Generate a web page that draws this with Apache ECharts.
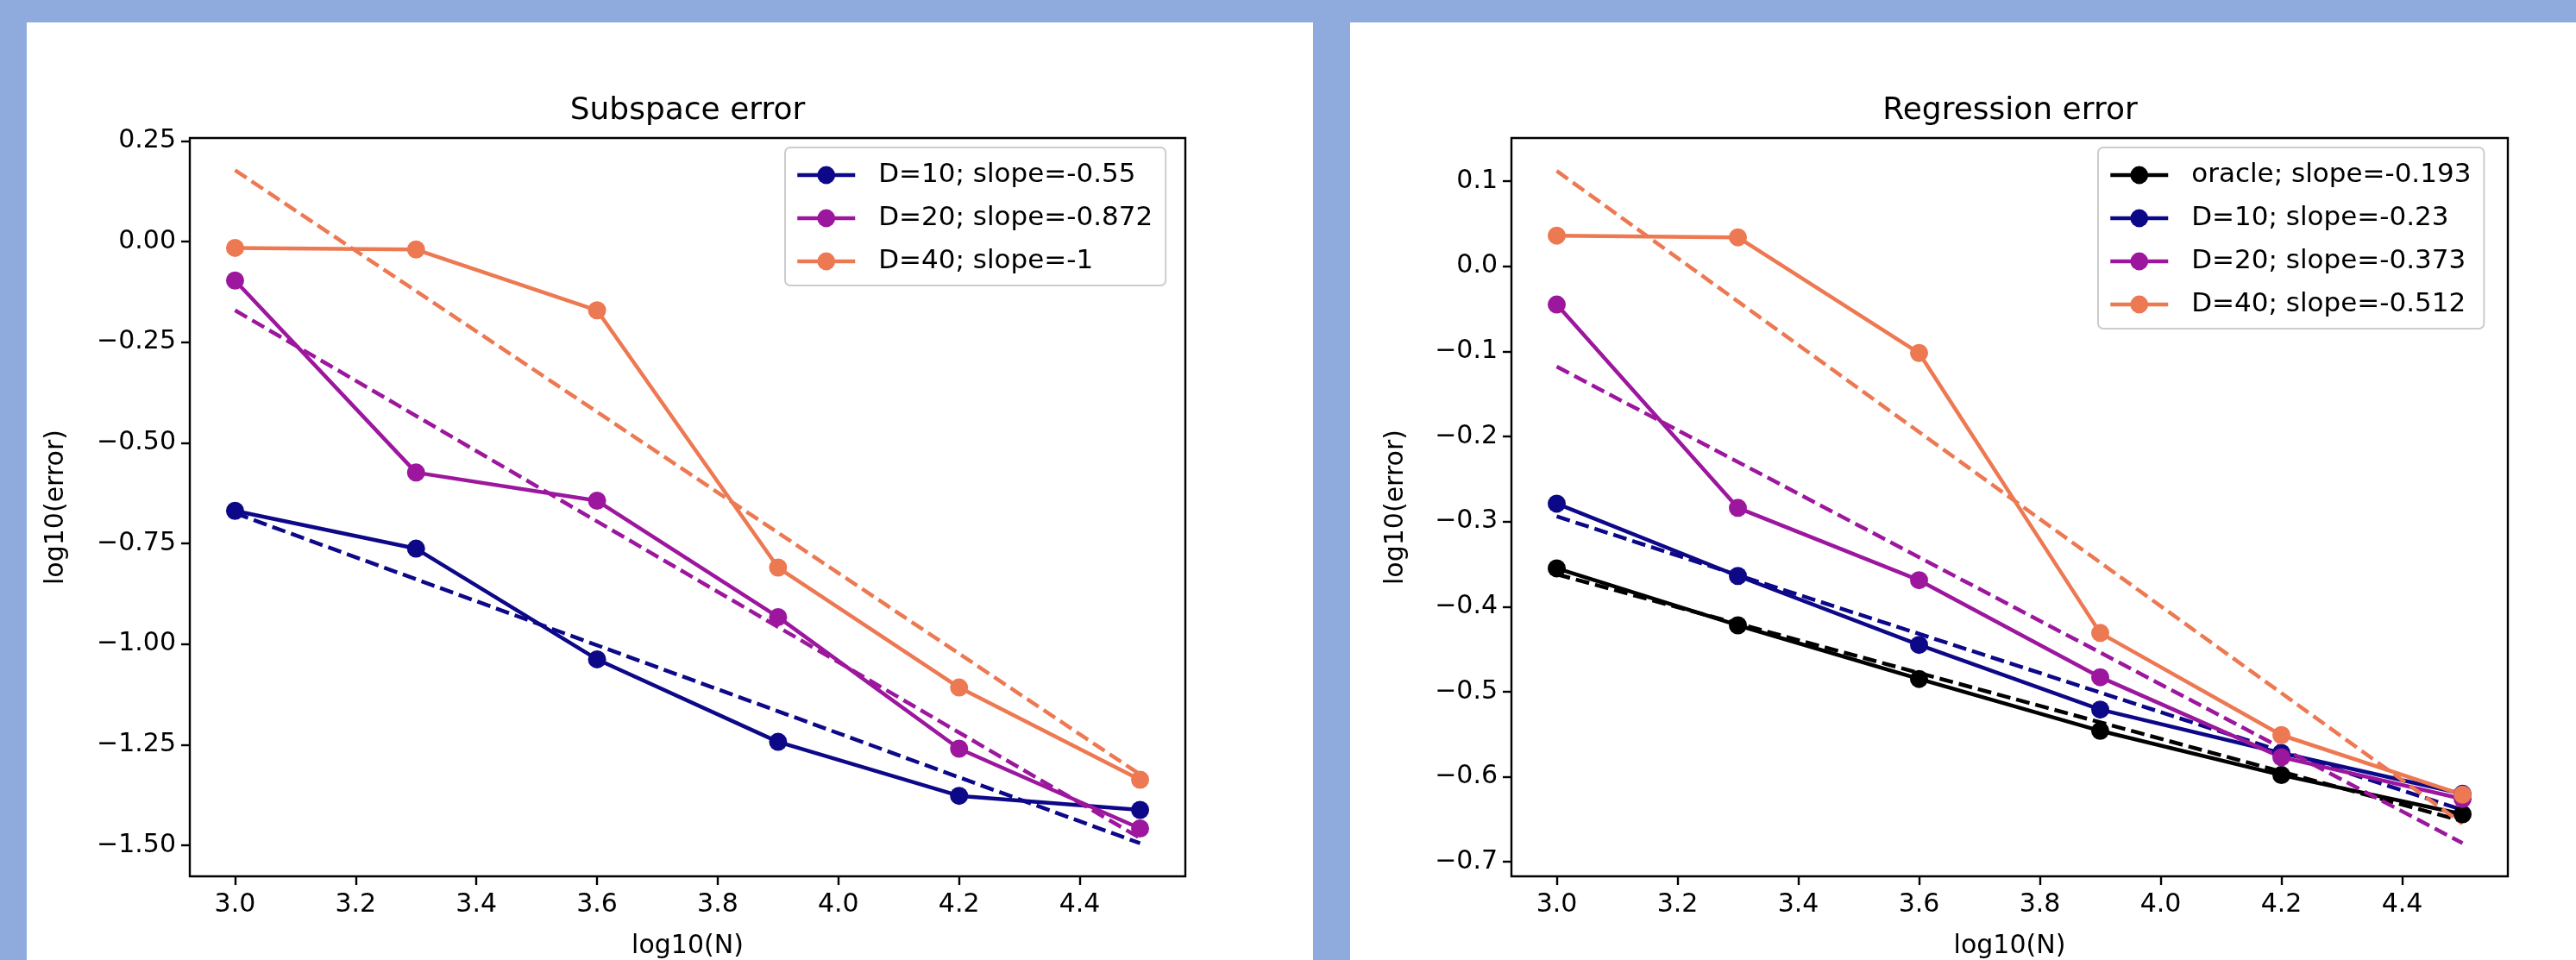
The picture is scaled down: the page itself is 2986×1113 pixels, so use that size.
<!doctype html>
<html lang="en">
<head>
    <meta charset="UTF-8">
    <title>Subspace error / Regression error</title>
    <script src="https://cdn.jsdelivr.net/npm/echarts@6/dist/echarts.min.js"></script>
    <style>
        html, body { margin: 0; padding: 0; background: #8faadc; }
        #main { width: 2986px; height: 1113px; }
    </style>
</head>
<body>
<div id="main"></div>
<script>
    // x positions, log10(N)
    var xN = [3.0, 3.3, 3.6, 3.9, 4.2, 4.5];
    var fitX = [3.0, 4.5];
    var xTicks = [3.0, 3.2, 3.4, 3.6, 3.8, 4.0, 4.2, 4.4];

    // left panel: subspace error
    var subNames = ['D=10; slope=-0.55', 'D=20; slope=-0.872', 'D=40; slope=-1'];
    var subD10 = [-0.669, -0.763, -1.038, -1.243, -1.377, -1.412];
    var subD20 = [-0.097, -0.574, -0.644, -0.933, -1.260, -1.458];
    var subD40 = [-0.016, -0.020, -0.171, -0.810, -1.108, -1.337];
    var subFitD10 = [-0.675, -1.495];
    var subFitD20 = [-0.171, -1.482];
    var subFitD40 = [0.177, -1.324];
    var subTicks = [0.25, 0, -0.25, -0.5, -0.75, -1.0, -1.25, -1.5];

    // right panel: regression error
    var regNames = ['oracle; slope=-0.193', 'D=10; slope=-0.23', 'D=20; slope=-0.373', 'D=40; slope=-0.512'];
    var regOracle = [-0.355, -0.422, -0.485, -0.546, -0.598, -0.644];
    var regD10 = [-0.279, -0.364, -0.445, -0.521, -0.572, -0.620];
    var regD20 = [-0.045, -0.284, -0.369, -0.483, -0.577, -0.626];
    var regD40 = [0.036, 0.034, -0.102, -0.431, -0.551, -0.621];
    var regFitOracle = [-0.362, -0.652];
    var regFitD10 = [-0.294, -0.639];
    var regFitD20 = [-0.118, -0.678];
    var regFitD40 = [0.112, -0.655];
    var regTicks = [0.1, 0, -0.1, -0.2, -0.3, -0.4, -0.5, -0.6, -0.7];

    var BLACK = '#000000', NAVY = '#0d0887', PURPLE = '#9c179e', ORANGE = '#ed7953';
    var FONT = 'DejaVu Sans';

    function pts(xs, ys) {
        return xs.map(function (x, i) { return [x, ys[i]]; });
    }

    function solid(name, idx, ys, color) {
        return {
            name: name, type: 'line', xAxisIndex: idx, yAxisIndex: idx,
            data: pts(xN, ys), color: color,
            symbol: 'circle', symbolSize: 21, showSymbol: true,
            lineStyle: {color: color, width: 4.5},
            itemStyle: {color: color},
            emphasis: {disabled: true}
        };
    }

    function dashed(name, idx, ys, color) {
        return {
            name: name, type: 'line', xAxisIndex: idx, yAxisIndex: idx,
            data: pts(fitX, ys), showSymbol: false, symbol: 'none',
            lineStyle: {color: color, width: 4.5, type: [16, 7]},
            emphasis: {disabled: true}
        };
    }

    function fmt(digits) {
        return function (v) { return v.toFixed(digits).replace('-', '\u2212'); };
    }

    function xAxis(idx) {
        return {
            type: 'value', gridIndex: idx, min: 2.925, max: 4.575,
            name: 'log10(N)', nameLocation: 'middle', nameGap: 66,
            nameTextStyle: {fontFamily: FONT, fontSize: 30, color: BLACK},
            axisLine: {show: false, onZero: false},
            axisTick: {show: true, inside: false, length: 10, customValues: xTicks,
                lineStyle: {color: BLACK, width: 2.4}},
            axisLabel: {customValues: xTicks, margin: 18, formatter: fmt(1),
                fontFamily: FONT, fontSize: 30, color: BLACK},
            splitLine: {show: false}
        };
    }

    function yAxis(idx, min, max, ticks, digits, gap) {
        return {
            type: 'value', gridIndex: idx, min: min, max: max,
            name: 'log10(error)', nameLocation: 'middle', nameGap: gap,
            nameTextStyle: {fontFamily: FONT, fontSize: 30, color: BLACK},
            axisLine: {show: false, onZero: false},
            axisTick: {show: true, inside: false, length: 10, customValues: ticks,
                lineStyle: {color: BLACK, width: 2.4}},
            axisLabel: {customValues: ticks, margin: 16, formatter: fmt(digits),
                fontFamily: FONT, fontSize: 30, color: BLACK},
            splitLine: {show: false}
        };
    }

    function legend(names, left) {
        return {
            data: names, orient: 'vertical', left: left, top: 171,
            itemWidth: 67, itemHeight: 26, itemGap: 16,
            padding: [15, 15, 11, 12],
            backgroundColor: 'rgba(255,255,255,0.8)',
            borderColor: '#cccccc', borderWidth: 2, borderRadius: 6,
            selectedMode: false,
            lineStyle: {width: 4.5},
            textStyle: {fontFamily: FONT, fontSize: 31, lineHeight: 34, color: BLACK,
                padding: [0, 0, 0, 22]}
        };
    }

    var chart = echarts.init(document.getElementById('main'));

    var option = {
        backgroundColor: '#8faadc',
        animation: false,
        graphic: [
            {type: 'rect', z: -10, shape: {x: 31, y: 26, width: 1491, height: 1100}, style: {fill: '#ffffff'}},
            {type: 'rect', z: -10, shape: {x: 1565, y: 26, width: 1430, height: 1100}, style: {fill: '#ffffff'}},
            {type: 'text', x: 797, y: 129, style: {text: 'Subspace error', font: '36px "DejaVu Sans"',
                fill: BLACK, align: 'center', verticalAlign: 'middle'}},
            {type: 'text', x: 2330, y: 129, style: {text: 'Regression error', font: '36px "DejaVu Sans"',
                fill: BLACK, align: 'center', verticalAlign: 'middle'}}
        ],
        legend: [legend(subNames, 910), legend(regNames, 2432)],
        grid: [
            {left: 220, top: 160, width: 1154, height: 856, show: true, outerBoundsMode: 'none',
                borderColor: BLACK, borderWidth: 2.4, backgroundColor: 'transparent'},
            {left: 1752, top: 160, width: 1155, height: 856, show: true, outerBoundsMode: 'none',
                borderColor: BLACK, borderWidth: 2.4, backgroundColor: 'transparent'}
        ],
        xAxis: [xAxis(0), xAxis(1)],
        yAxis: [
            yAxis(0, -1.577, 0.257, subTicks, 2, 140),
            yAxis(1, -0.717, 0.1507, regTicks, 1, 119)
        ],
        series: [
            solid(subNames[0], 0, subD10, NAVY),
            dashed('fit D=10 (sub)', 0, subFitD10, NAVY),
            solid(subNames[1], 0, subD20, PURPLE),
            dashed('fit D=20 (sub)', 0, subFitD20, PURPLE),
            solid(subNames[2], 0, subD40, ORANGE),
            dashed('fit D=40 (sub)', 0, subFitD40, ORANGE),

            solid(regNames[0], 1, regOracle, BLACK),
            dashed('fit oracle (reg)', 1, regFitOracle, BLACK),
            solid(regNames[1], 1, regD10, NAVY),
            dashed('fit D=10 (reg)', 1, regFitD10, NAVY),
            solid(regNames[2], 1, regD20, PURPLE),
            dashed('fit D=20 (reg)', 1, regFitD20, PURPLE),
            solid(regNames[3], 1, regD40, ORANGE),
            dashed('fit D=40 (reg)', 1, regFitD40, ORANGE)
        ]
    };

    chart.setOption(option);
</script>
</body>
</html>
